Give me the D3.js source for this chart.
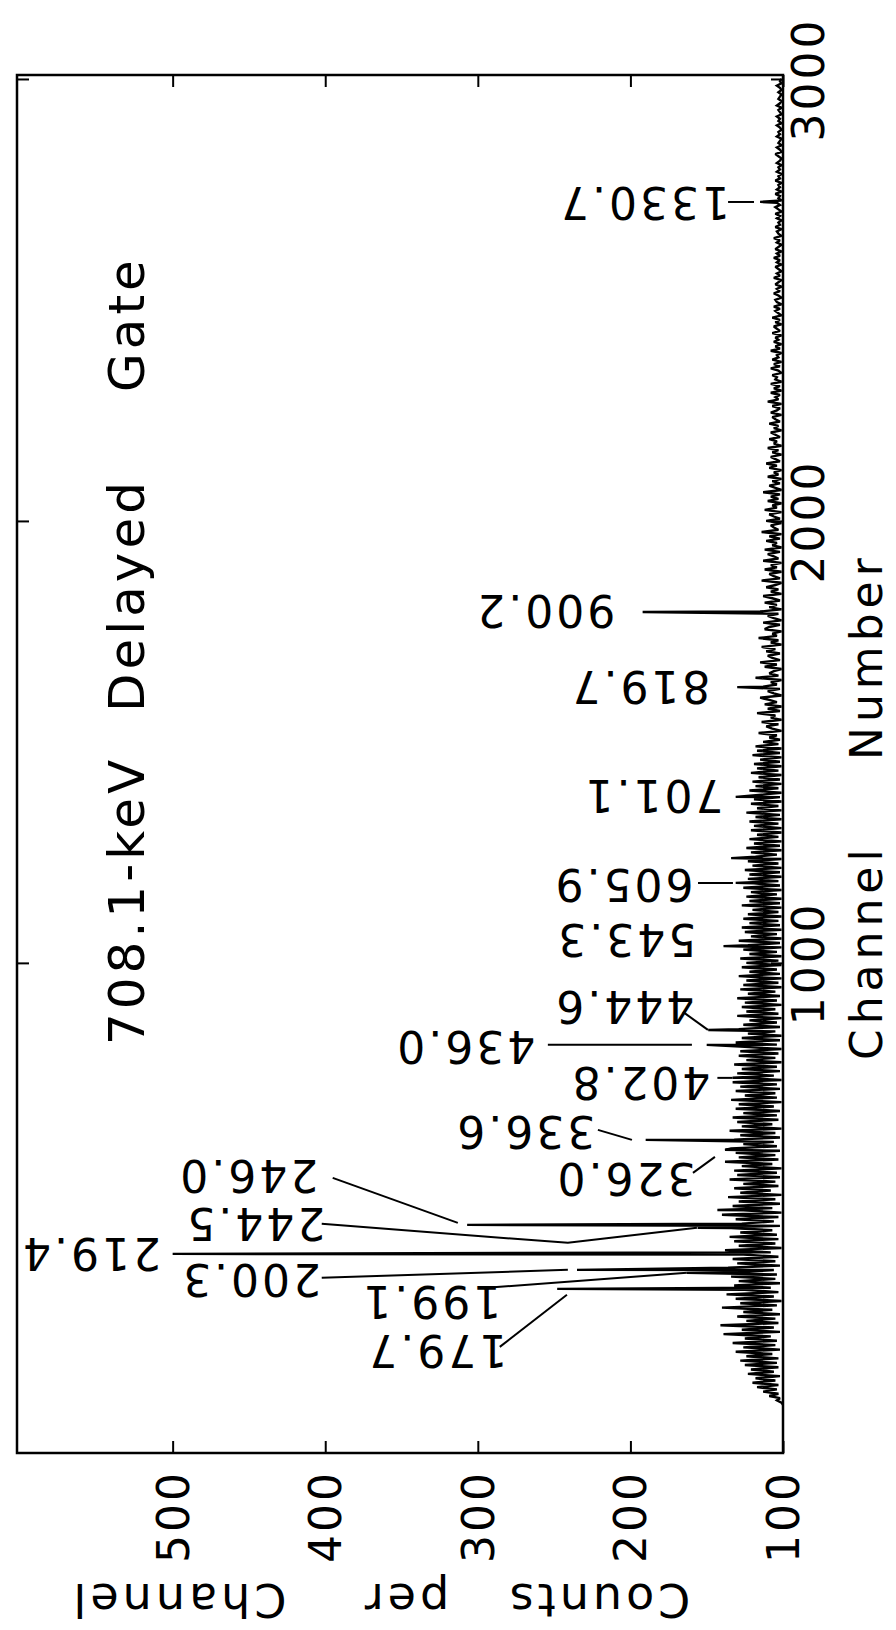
<!DOCTYPE html>
<html>
<head>
<meta charset="utf-8">
<script src="https://cdn.jsdelivr.net/npm/d3@7"></script>
<style>
  body { margin: 0; background: #fff; }
  svg { display: block; }
  text { font-family: "DejaVu Sans", sans-serif; fill: #000; }
</style>
</head>
<body>
<div id="chart"></div>
<script>
// spectrum, channels 0..1495 every 5 channels
const lowStart = 0, lowStep = 5;
const lowCounts = [
  100,101,104,102,109,103,113,104,117,103,120,105,118,102,123,106,121,103,125,104,
  128,103,124,107,131,102,126,105,133,104,125,108,139,102,127,106,141,103,124,105,
  130,102,126,107,140,104,128,101,131,106,137,103,125,108,132,102,129,105,134,104,
  127,106,136,102,130,105,133,103,126,108,138,101,129,105,132,103,135,104,128,107,
  134,102,127,106,131,103,140,101,126,107,133,102,129,105,136,101,128,108,132,103,
  126,105,135,102,130,104,132,101,127,107,138,103,129,105,131,102,134,104,126,106,
  132,102,128,105,135,101,127,107,130,103,133,104,126,102,131,106,129,101,134,104,
  125,105,131,102,128,104,133,101,126,106,130,102,127,104,132,101,124,105,129,103,
  128,101,125,104,131,102,127,101,123,105,129,102,126,104,122,101,130,103,124,105,
  127,101,125,104,130,102,123,105,128,101,126,103,124,101,129,102,122,104,127,101,
  124,103,128,101,122,104,126,101,123,102,129,101,121,104,125,101,127,102,122,103,
  126,101,123,103,120,101,127,102,122,101,124,104,121,101,126,102,119,103,123,101,
  122,102,125,101,120,103,123,101,118,104,121,101,124,102,119,101,122,103,117,101,
  121,101,119,103,122,101,118,102,124,101,117,103,121,101,119,102,116,101,122,103,
  118,101,120,102,116,101,121,103,117,101,119,102,115,101,120,102,117,101,118,103
];
// spectrum, channels 1500..3000 every 5 channels
const highStart = 1500, highStep = 5;
const highCounts = [
  113,102,109,104,116,101,107,111,103,114,101,108,105,117,102,110,101,112,104,109,
  115,101,106,110,102,113,104,108,101,118,103,109,106,101,112,104,115,102,107,110,
  102,111,105,114,101,108,103,116,104,107,101,112,109,102,113,101,106,110,103,115,
  101,109,104,112,102,107,113,101,108,103,111,105,101,114,102,106,109,101,112,104,
  108,101,113,103,106,110,102,112,101,107,104,111,102,109,101,114,103,106,108,101,
  111,102,106,109,101,112,104,107,101,110,103,108,102,113,101,105,109,102,107,101,
  110,103,106,101,109,104,111,102,105,108,101,107,103,110,101,106,104,109,102,105,
  108,101,106,103,109,102,105,107,101,108,104,102,107,101,110,103,105,102,108,101,
  106,102,108,101,105,104,107,101,103,108,102,106,101,107,103,104,101,108,102,105,
  101,106,103,105,101,107,102,104,106,101,105,102,107,101,103,105,102,106,101,104,
  105,101,103,106,102,104,101,105,103,101,106,102,104,101,103,105,101,104,102,106,
  102,104,101,105,103,101,104,102,106,101,103,104,101,105,102,103,101,104,102,105,
  101,103,105,102,104,101,103,102,105,101,104,102,103,101,105,102,103,101,104,102,
  103,101,104,102,101,103,105,101,102,104,101,103,102,101,104,102,103,101,102,104,
  101,103,102,104,101,102,103,101,104,102,101,103,102,101,103,101,102,104,101,102,
  101
];

// labelled gamma lines (keV), channel of the line, counts at its tip
const peakLabels   = ["179.7","199.1","200.3","219.4","244.5","246.0","326.0","336.6","402.8","436.0","444.6","543.3","605.9","701.1","819.7","900.2","1330.7"];
const peakChannels = [262.4, 298.6, 305.4, 341.6, 400.5, 407.2, 577, 599.5, 740, 814.5, 848, 1038, 1181, 1375.6, 1624, 1794, 2722];
const peakCounts   = [248, 163, 235, 500, 156, 307, 138, 190, 133, 150, 149, 139, 131, 131, 130, 192, 115];
// smaller lines without a label
const extraChannels = [441, 1237];
const extraCounts   = [143, 134];

// where each label sits, in channel / counts
const labelChannels = [122.2, 233.0, 282.8, 341.6, 409.5, 518.1, 511.3, 617.6, 728.5, 810, 900.5, 1052, 1176.5, 1377.8, 1624.4, 1796.4, 2719.5];
const labelCounts   = [326.9, 330.8, 448.9, 553.8, 446.2, 450.8, 203.6, 269.2, 193.8, 308.5, 204.3, 203, 204.9, 185.2, 193.8, 256.1, 191.1];
// leader lines, [channel, counts] points
const leaders = [
  [[131.2, 285.6], [248.9, 241.6]],
  [[264.7, 294.1], [298.6, 163.0]],
  [[287.3, 402.3], [305.4, 241.0]],
  null,
  [[409.5, 402.3], [366.5, 241.0], [400.5, 156.4]],
  [[513.6, 395.1], [411.8, 313.1]],
  [[524.9, 159.0], [561.1, 144.6]],
  [[622.2, 221.3], [599.5, 199.0]],
  [[739.8, 143.0], [739.8, 133.0]],
  [[814.5, 254.1], [814.5, 159.7]],
  [[889.1, 165.6], [848.4, 149.2]],
  null,
  [[1181, 155.7], [1181, 132.8]],
  null,
  null,
  null,
  [[2721.7, 136], [2721.7, 119]]
];

const countTicks = [100, 200, 300, 400, 500];
const channelTicks = [1000, 2000, 3000];

const W = 896, H = 1630;
const frame = { left: 17, right: 783, top: 75, bottom: 1453 };

// figure is turned: channel runs up the page, counts run to the left
const chan = d3.scaleLinear().domain([-109, 3009]).range([frame.bottom, frame.top]);
const cnt = d3.scaleLinear().domain([100, 602]).range([frame.right, frame.left]);

const svg = d3.select("#chart").append("svg")
  .attr("width", W)
  .attr("height", H);

svg.append("rect").attr("width", W).attr("height", H).attr("fill", "#fff");

let spectrum = [];
lowCounts.forEach((c, i) => spectrum.push({ ch: lowStart + i * lowStep, c }));
highCounts.forEach((c, i) => spectrum.push({ ch: highStart + i * highStep, c }));
peakChannels.forEach((ch, i) => spectrum.push({ ch, c: peakCounts[i] }));
extraChannels.forEach((ch, i) => spectrum.push({ ch, c: extraCounts[i] }));
spectrum.sort((a, b) => a.ch - b.ch);

const line = d3.line()
  .x(d => cnt(d.c))
  .y(d => chan(d.ch));

svg.append("path")
  .datum(spectrum)
  .attr("d", line)
  .attr("fill", "none")
  .attr("stroke", "#000")
  .attr("stroke-width", 2.4)
  .attr("stroke-linejoin", "miter")
  .attr("stroke-miterlimit", 2);

// axes with inward ticks
const countAxis = svg.append("g")
  .attr("transform", `translate(0,${frame.bottom})`)
  .call(d3.axisBottom(cnt).tickValues(countTicks).tickSizeInner(-12).tickSizeOuter(0).tickFormat(d3.format("d")));
const countTop = svg.append("g")
  .attr("transform", `translate(0,${frame.top})`)
  .call(d3.axisTop(cnt).tickValues(countTicks).tickSizeInner(-12).tickSizeOuter(0).tickFormat(""));
const chanAxis = svg.append("g")
  .attr("transform", `translate(${frame.right},0)`)
  .call(d3.axisRight(chan).tickValues(channelTicks).tickSizeInner(-12).tickSizeOuter(0).tickFormat(d3.format("d")));
const chanLeft = svg.append("g")
  .attr("transform", `translate(${frame.left},0)`)
  .call(d3.axisLeft(chan).tickValues(channelTicks).tickSizeInner(-12).tickSizeOuter(0).tickFormat(""));

[countAxis, countTop, chanAxis, chanLeft].forEach(g => {
  g.select(".domain").remove();
  g.selectAll(".tick line").attr("stroke", "#000").attr("stroke-width", 2);
  g.attr("font-family", null).attr("font-size", null);
});

countAxis.selectAll(".tick text")
  .attr("transform", "rotate(-90)")
  .attr("x", -17).attr("y", 0).attr("dy", null)
  .attr("text-anchor", "end")
  .attr("dominant-baseline", "central")
  .style("font-size", "44px")
  .style("letter-spacing", "3px");

chanAxis.selectAll(".tick text")
  .attr("transform", "rotate(-90)")
  .attr("x", 0).attr("y", 25).attr("dy", null)
  .attr("text-anchor", "middle")
  .attr("dominant-baseline", "central")
  .style("font-size", "44px")
  .style("letter-spacing", "3px");

svg.append("rect")
  .attr("x", frame.left).attr("y", frame.top)
  .attr("width", frame.right - frame.left)
  .attr("height", frame.bottom - frame.top)
  .attr("fill", "none")
  .attr("stroke", "#000")
  .attr("stroke-width", 2.5);

// leader lines
const leaderLine = d3.line().x(d => cnt(d[1])).y(d => chan(d[0]));
leaders.forEach(l => {
  if (!l) return;
  svg.append("path")
    .attr("d", leaderLine(l))
    .attr("fill", "none")
    .attr("stroke", "#000")
    .attr("stroke-width", 2);
});

// peak labels, upside down like the source figure
peakLabels.forEach((t, i) => {
  const x = cnt(labelCounts[i]), y = chan(labelChannels[i]);
  svg.append("text")
    .attr("x", x).attr("y", y)
    .attr("transform", `rotate(180,${x},${y})`)
    .attr("text-anchor", "middle")
    .attr("dominant-baseline", "central")
    .style("font-size", "44px")
    .style("letter-spacing", "3px")
    .text(t);
});

// title, reads bottom to top
const titleWords = [["708.1-keV", 1045], ["Delayed", 712], ["Gate", 392]];
titleWords.forEach(([t, y]) => {
  svg.append("text")
    .attr("x", 127).attr("y", y)
    .attr("transform", `rotate(-90,127,${y})`)
    .attr("text-anchor", "start")
    .attr("dominant-baseline", "central")
    .style("font-size", "50px")
    .style("letter-spacing", "4px")
    .text(t);
});

// x axis title
[["Channel", 1060], ["Number", 760]].forEach(([t, y]) => {
  svg.append("text")
    .attr("x", 866).attr("y", y)
    .attr("transform", `rotate(-90,866,${y})`)
    .attr("text-anchor", "start")
    .attr("dominant-baseline", "central")
    .style("font-size", "44px")
    .style("letter-spacing", "5px")
    .text(t);
});

// y axis title, upside down
[["Counts", 598], ["per", 405], ["Channel", 178]].forEach(([t, x]) => {
  svg.append("text")
    .attr("x", x).attr("y", 1600)
    .attr("transform", `rotate(180,${x},1600)`)
    .attr("text-anchor", "middle")
    .attr("dominant-baseline", "central")
    .style("font-size", "46px")
    .style("letter-spacing", "4px")
    .text(t);
});
</script>
</body>
</html>
